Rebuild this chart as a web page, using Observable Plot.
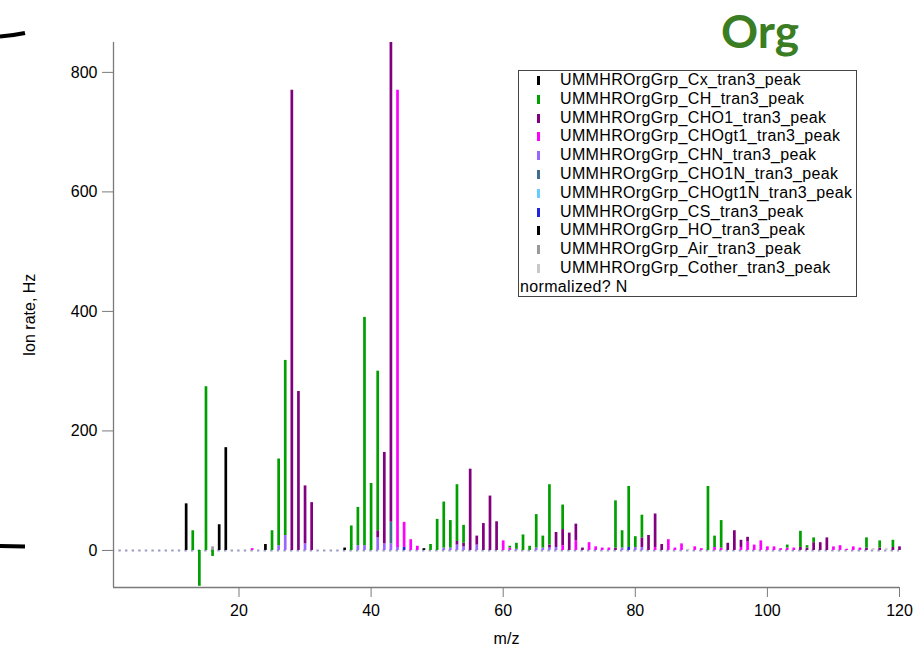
<!DOCTYPE html>
<html>
<head>
<meta charset="utf-8">
<script src="https://cdn.jsdelivr.net/npm/d3@7"></script>
<script src="https://cdn.jsdelivr.net/npm/@observablehq/plot@0.6"></script>
<style>
  html, body { margin: 0; padding: 0; background: #fff; }
  #wrap { position: relative; width: 922px; height: 649px; overflow: hidden; font-family: "Liberation Sans", Arial, sans-serif; }
  #legend { position: absolute; left: 518px; top: 70px; width: 339px; height: 227px; border: 1px solid #444; background: #fff; box-sizing: border-box; }
  .item { position: absolute; left: 0; height: 18.8px; line-height: 18.8px; font-size: 16px; letter-spacing: 0.35px; color: #000; white-space: nowrap; }
  .sym { position: absolute; left: 18px; top: 5px; width: 2.5px; height: 9px; }
  .lab { position: absolute; left: 41px; top: 0; }
  #overlay { position: absolute; left: 0; top: 0; pointer-events: none; }
</style>
</head>
<body>
<div id="wrap"></div>
<script>
// ---------- data ----------
const seriesNames = [
  "UMMHROrgGrp_Cx_tran3_peak",
  "UMMHROrgGrp_CH_tran3_peak",
  "UMMHROrgGrp_CHO1_tran3_peak",
  "UMMHROrgGrp_CHOgt1_tran3_peak",
  "UMMHROrgGrp_CHN_tran3_peak",
  "UMMHROrgGrp_CHO1N_tran3_peak",
  "UMMHROrgGrp_CHOgt1N_tran3_peak",
  "UMMHROrgGrp_CS_tran3_peak",
  "UMMHROrgGrp_HO_tran3_peak",
  "UMMHROrgGrp_Air_tran3_peak",
  "UMMHROrgGrp_Cother_tran3_peak"
];
const seriesColors = ["#000000", "#00a000", "#800080", "#ff00ff", "#9966ff", "#406e8e", "#66ccff", "#2424e0", "#000000", "#999999", "#c8c8c8"];

const mzCx = [12, 24, 36, 48];
const valCx = [78, 10, 4, 3];

const mzCH = [13,14,15,16,25,26,27,37,38,39,40,41,49,50,51,52,53,54,61,62,63,64,65,66,67,69,77,78,79,80,81,91,92,93,103,105,106,107,115,117,119];
const valCH = [33,-60,274,-10,33,145,293,41,64,382,112,267,10,52,77,46,95,30,3,10,26,7,56,20,101,41,79,29,102,18,38,107,19,46,5,27,4,8,17,12,12];

const mzCHO1 = [28,29,30,31,41,42,43,53,54,55,56,57,58,59,67,68,69,70,71,72,77,81,82,83,84,94,95,96,97,105,106,107,108,109,115,117,119,120];
const valCHO1 = [770,266,97,80,12,153,803,6,6,136,15,45,91,48,5,25,27,29,28,4,4,16,25,56,10,12,33,12,8,5,4,13,13,21,4,4,5,6];

const mzCHOgt1 = [22,44,45,46,47,60,61,69,71,73,74,75,76,83,85,86,87,89,90,92,93,96,97,98,99,100,101,102,103,104,110,111,112,113,114];
const valCHOgt1 = [3,765,42,18,7,16,4,8,16,13,6,4,4,5,18,4,11,6,3,5,4,5,14,9,16,6,6,3,4,4,6,8,2,6,4];

const mzCHN = [26,27,30,38,39,41,42,43,44,51,52,53,54,56,62,65,66,67,68,78,80,81];
const valCHN = [8,25,11,8,8,21,11,11,5,4,4,9,6,9,2,4,4,4,5,4,5,5];

const mzCHO1N = [43];
const valCHO1N = [36];

const mzCHOgt1N = [];
const valCHOgt1N = [];

const mzCS = [45, 79];
const valCS = [5, 5];

const mzHO = [17, 18];
const valHO = [43, 172];

const mzAir = [16];
const valAir = [6];

const mzCother = [88, 116, 118];
const valCother = [2, 3, 3];

const xDomain = [1, 120];
const yDomain = [-62, 850];
const xTicks = [20, 40, 60, 80, 100, 120];
const yTicks = [0, 200, 400, 600, 800];

// ---------- build stacked table ----------
const seriesData = [
  [mzCx, valCx], [mzCH, valCH], [mzCHO1, valCHO1], [mzCHOgt1, valCHOgt1],
  [mzCHN, valCHN], [mzCHO1N, valCHO1N], [mzCHOgt1N, valCHOgt1N], [mzCS, valCS],
  [mzHO, valHO], [mzAir, valAir], [mzCother, valCother]
];
// stacking order, bottom to top (indices into seriesNames)
const stackOrder = [4, 5, 6, 7, 9, 10, 3, 2, 1, 0, 8];
const posTop = new Map(), negBot = new Map();
const bars = [];
for (const si of stackOrder) {
  const [mz, val] = seriesData[si];
  mz.forEach((m, i) => {
    const v = val[i];
    if (v >= 0) {
      const b = posTop.get(m) || 0;
      bars.push({mz: m, y1: b, y2: b + v, series: seriesNames[si]});
      posTop.set(m, b + v);
    } else {
      const b = negBot.get(m) || 0;
      bars.push({mz: m, y1: b, y2: b + v, series: seriesNames[si]});
      negBot.set(m, b + v);
    }
  });
}

const chart = Plot.plot({
  width: 922,
  height: 649,
  marginLeft: 113,
  marginRight: 23,
  marginTop: 42,
  marginBottom: 62,
  style: {fontFamily: "'Liberation Sans', Arial, sans-serif", fontSize: "16px", color: "#000", background: "transparent", overflow: "visible"},
  x: {domain: xDomain},
  y: {domain: yDomain},
  color: {domain: seriesNames, range: seriesColors},
  marks: [
    Plot.ruleY([0], {stroke: "#9a9ac4", strokeWidth: 2, strokeDasharray: "2.4 4.2", strokeDashoffset: 1.2}),
    Plot.ruleX(bars, {x: "mz", y1: "y1", y2: "y2", stroke: "series", strokeWidth: 2.7}),
    Plot.ruleX([xDomain[0]], {stroke: "#7a7a7a", strokeWidth: 1.3}),
    Plot.ruleY([yDomain[0]], {stroke: "#7a7a7a", strokeWidth: 1.3}),
    Plot.axisX({ticks: xTicks, tickSize: 10, tickPadding: 7, stroke: "#7a7a7a", fill: "#000",
      label: "m/z", labelAnchor: "center", labelOffset: 56, labelArrow: "none"}),
    Plot.axisY({ticks: yTicks, tickSize: 11, tickPadding: 5, stroke: "#7a7a7a", fill: "#000",
      label: "Ion rate, Hz", labelAnchor: "center", labelOffset: 90, labelArrow: "none"})
  ]
});

const wrap = document.getElementById("wrap");
wrap.appendChild(chart);

// legend
const legend = document.createElement("div");
legend.id = "legend";
seriesNames.forEach((name, i) => {
  const it = document.createElement("div");
  it.className = "item";
  it.style.top = (i * 18.8) + "px";
  const s = document.createElement("div");
  s.className = "sym";
  s.style.background = seriesColors[i];
  const t = document.createElement("div");
  t.className = "lab";
  t.textContent = name;
  it.appendChild(s); it.appendChild(t);
  legend.appendChild(it);
});
const norm = document.createElement("div");
norm.className = "item";
norm.style.top = (seriesNames.length * 18.8) + "px";
norm.style.left = "1px";
norm.textContent = "normalized? N";
legend.appendChild(norm);
wrap.appendChild(legend);

// title and decorative brackets
const ns = "http://www.w3.org/2000/svg";
const ov = document.createElementNS(ns, "svg");
ov.setAttribute("id", "overlay");
ov.setAttribute("width", 922);
ov.setAttribute("height", 649);
ov.innerHTML = `
  <text x="721" y="48" font-family="Lato, 'Open Sans', sans-serif" font-weight="bold" font-size="46" fill="#3b7d23">Org</text>
  <path d="M0,36.5 Q13,35.5 25,33" stroke="#000" stroke-width="4.2" fill="none"/>
  <path d="M0,546 L25,546.5" stroke="#000" stroke-width="4.2" fill="none"/>
`;
wrap.appendChild(ov);
</script>
</body>
</html>
